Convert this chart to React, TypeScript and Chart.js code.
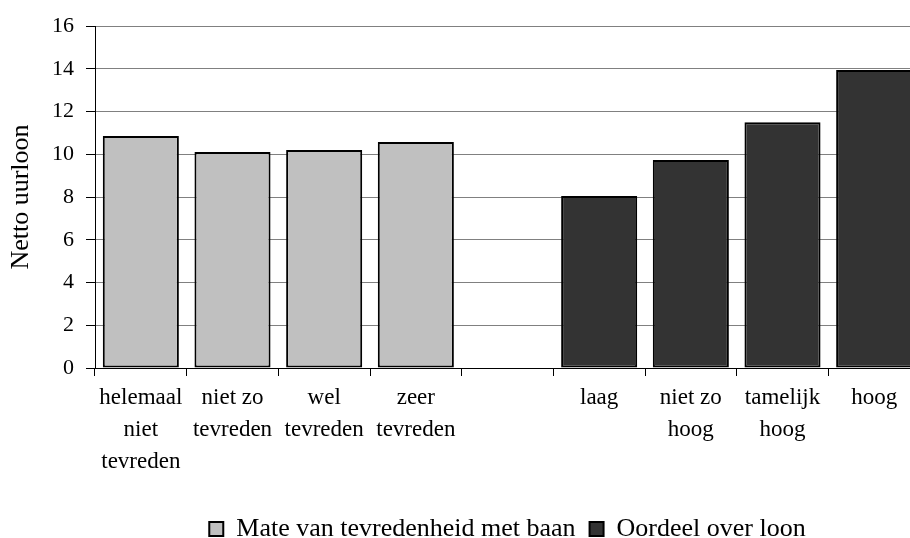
import React, { useEffect, useRef } from "react";
import { Chart, registerables } from "chart.js";

Chart.register(...registerables);

const categories: (string | string[])[] = [
  ["helemaal", "niet", "tevreden"],
  ["niet zo", "tevreden"],
  ["wel", "tevreden"],
  ["zeer", "tevreden"],
  "",
  "laag",
  ["niet zo", "hoog"],
  ["tamelijk", "hoog"],
  "hoog",
];
const tevredenheid = [10.85, 10.1, 10.2, 10.57, null, null, null, null, null];
const oordeelLoon = [null, null, null, null, null, 8.05, 9.73, 11.5, 13.94];
const seriesNames = ["Mate van tevredenheid met baan", "Oordeel over loon"];
const yAxisTitle = "Netto uurloon";
const yMin = 0;
const yMax = 16;
const yStep = 2;

const FONT = "'Liberation Serif', 'Times New Roman', serif";

export default function App() {
  const ref = useRef<HTMLCanvasElement>(null);
  useEffect(() => {
    if (!ref.current) return;
    const chart = new Chart(ref.current, {
      type: "bar",
      data: {
        labels: categories as any,
        datasets: [
          {
            label: seriesNames[0],
            data: tevredenheid as any,
            backgroundColor: "#c0c0c0",
            borderColor: "#000000",
            borderWidth: 2,
            borderSkipped: false,
          },
          {
            label: seriesNames[1],
            data: oordeelLoon as any,
            backgroundColor: "#333333",
            borderColor: "#000000",
            borderWidth: 2,
            borderSkipped: false,
          },
        ],
      },
      options: {
        responsive: false,
        animation: false,
        devicePixelRatio: 1,
        datasets: { bar: { categoryPercentage: 1, barPercentage: 0.83 } },
        layout: { padding: { left: 0, right: 10, top: 26, bottom: 0 } },
        plugins: {
          tooltip: { enabled: false },
          legend: {
            position: "bottom",
            fullSize: false,
            labels: {
              font: { family: FONT, size: 26 },
              color: "#000",
              boxWidth: 14,
              boxHeight: 14,
              padding: 14,
            },
          },
        },
        scales: {
          x: {
            stacked: true,
            offset: true,
            grid: {
              display: true,
              offset: true,
              drawOnChartArea: false,
              drawTicks: true,
              tickLength: 8,
              tickColor: "#000",
              color: "#000",
            },
            border: { display: true, color: "#000", width: 1 },
            ticks: {
              font: { family: FONT, size: 23, lineHeight: 1.39 },
              color: "#000",
              padding: 6,
              maxRotation: 0,
              autoSkip: false,
            },
            afterFit: (s: any) => {
              s.height = 134;
            },
          },
          y: {
            stacked: true,
            min: yMin,
            max: yMax,
            grid: {
              color: "#808080",
              lineWidth: 1,
              tickLength: 9,
              tickColor: "#000",
            },
            border: { display: true, color: "#000", width: 1 },
            ticks: {
              stepSize: yStep,
              font: { family: FONT, size: 22 },
              color: "#000",
              padding: 12,
            },
            title: {
              display: true,
              text: yAxisTitle,
              font: { family: FONT, size: 26 },
              color: "#000",
              padding: { top: 6, bottom: 0 },
            },
            afterFit: (s: any) => {
              s.width = 95;
            },
          },
        },
      },
    });
    return () => chart.destroy();
  }, []);
  return (
    <div
      style={{
        position: "fixed",
        left: 0,
        top: 0,
        width: 910,
        height: 538,
        overflow: "hidden",
        background: "#fff",
      }}
    >
      <canvas ref={ref} width={930} height={552} style={{ display: "block" }} />
    </div>
  );
}
